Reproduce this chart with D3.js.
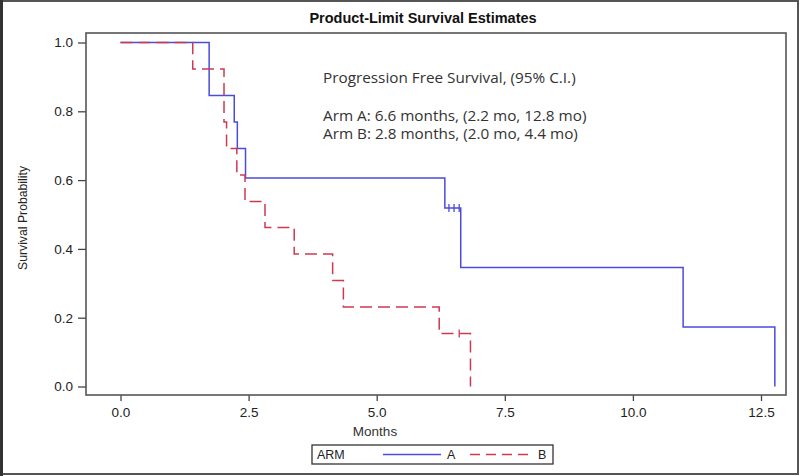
<!DOCTYPE html>
<html><head><meta charset="utf-8">
<script src="https://cdn.jsdelivr.net/npm/d3@7"></script>
<style>body{margin:0;background:#fff}svg{display:block}</style>
</head><body>
<svg id="c" width="800" height="476"></svg>
<script>
const title = "Product-Limit Survival Estimates";
const xTicks = [0, 2.5, 5.0, 7.5, 10.0, 12.5];
const yTicks = [0, 0.2, 0.4, 0.6, 0.8, 1.0];
const timesA = [0, 1.73, 2.22, 2.28, 2.44, 6.33, 6.64, 10.98, 12.77];
const survA  = [1.0, 0.846, 0.769, 0.692, 0.606, 0.519, 0.346, 0.173, 0.0];
const censorTimesA = [6.41, 6.51, 6.61];
const censorSurvA  = [0.519, 0.519, 0.519];
const timesB = [0, 1.41, 2.02, 2.07, 2.27, 2.43, 2.82, 3.39, 4.14, 4.35, 6.22, 6.83];
const survB  = [1.0, 0.923, 0.769, 0.692, 0.615, 0.538, 0.462, 0.385, 0.308, 0.231, 0.154, 0.0];
const censorTimesB = [6.61];
const censorSurvB  = [0.154];
const annotations = [
  "Progression Free Survival, (95% C.I.)",
  "Arm A: 6.6 months, (2.2 mo, 12.8 mo)",
  "Arm B: 2.8 months, (2.0 mo, 4.4 mo)"
];
const legendTitle = "ARM";
const legendLabels = ["A", "B"];

const svg = d3.select("#c");
const blue = "#4b4bdc", red = "#cc3a52";
const box = {l: 86, t: 33, r: 786, b: 395};

// outer frame
svg.append("rect").attr("x", 1).attr("y", 1).attr("width", 797).attr("height", 473)
  .attr("fill", "#fff").attr("stroke", "#555").attr("stroke-width", 2);
svg.append("line").attr("x1", 1.5).attr("x2", 1.5).attr("y1", 0).attr("y2", 476)
  .attr("stroke", "#333").attr("stroke-width", 3);

const x = d3.scaleLinear().domain([0, 12.5]).range([120.5, 761]);
const y = d3.scaleLinear().domain([0, 1]).range([386.5, 42.5]);

svg.append("text").attr("x", 423).attr("y", 23).attr("text-anchor", "middle")
  .attr("font-family", "Liberation Sans, Arial, sans-serif").attr("font-weight", "bold")
  .attr("font-size", 14.5).attr("fill", "#111").text(title);

// axes
const font = "Liberation Sans, Arial, sans-serif";
const yAxis = svg.append("g").attr("transform", `translate(${box.l},0)`)
  .call(d3.axisLeft(y).tickValues(yTicks).tickFormat(d3.format(".1f")).tickSize(8).tickPadding(5));
const xAxis = svg.append("g").attr("transform", `translate(0,${box.b})`)
  .call(d3.axisBottom(x).tickValues(xTicks).tickFormat(d3.format(".1f")).tickSize(6).tickPadding(6));
[yAxis, xAxis].forEach(g => {
  g.select(".domain").remove();
  g.selectAll("line").attr("stroke", "#444").attr("stroke-width", 1.3);
  g.selectAll("text").attr("font-family", font).attr("font-size", 13.5).attr("fill", "#222");
});

svg.append("rect").attr("x", box.l).attr("y", box.t).attr("width", box.r - box.l).attr("height", box.b - box.t)
  .attr("fill", "none").attr("stroke", "#555").attr("stroke-width", 1.6);

svg.append("text").attr("transform", `translate(27,${(box.t + box.b) / 2 + 4}) rotate(-90)`)
  .attr("text-anchor", "middle").attr("font-family", font).attr("font-size", 13.5)
  .attr("textLength", 104).attr("lengthAdjust", "spacingAndGlyphs")
  .attr("fill", "#222").text("Survival Probability");
svg.append("text").attr("x", 375).attr("y", 436).attr("text-anchor", "middle")
  .attr("font-family", font).attr("font-size", 13.5).attr("fill", "#333").text("Months");

// annotation
annotations.forEach((t, i) => {
  svg.append("text").attr("x", 323).attr("y", [83, 121, 139][i])
    .attr("font-family", "Open Sans, sans-serif").attr("font-size", 15.3).attr("fill", "#333").text(t);
});

const stepLine = d3.line().x(d => x(d[0])).y(d => y(d[1])).curve(d3.curveStepAfter);
const ptsA = timesA.map((t, i) => [t, survA[i]]);
const ptsB = timesB.map((t, i) => [t, survB[i]]);

svg.append("path").attr("d", stepLine(ptsA)).attr("fill", "none")
  .attr("stroke", blue).attr("stroke-width", 1.5);
svg.append("path").attr("d", stepLine(ptsB)).attr("fill", "none")
  .attr("stroke", red).attr("stroke-width", 1.5).attr("stroke-dasharray", "12,6");

function censors(ts, ss, col) {
  ts.forEach((t, i) => {
    svg.append("line").attr("x1", x(t)).attr("x2", x(t)).attr("y1", y(ss[i]) - 4).attr("y2", y(ss[i]) + 4)
      .attr("stroke", col).attr("stroke-width", 1.3);
  });
}
censors(censorTimesA, censorSurvA, blue);
censors(censorTimesB, censorSurvB, red);

// legend
const lg = svg.append("g");
lg.append("rect").attr("x", 312).attr("y", 445).attr("width", 241).attr("height", 19)
  .attr("fill", "#fff").attr("stroke", "#333").attr("stroke-width", 1.3);
lg.append("text").attr("x", 317).attr("y", 459).attr("font-family", font).attr("font-size", 12.5)
  .attr("fill", "#222").text(legendTitle);
lg.append("line").attr("x1", 383).attr("x2", 441).attr("y1", 454.5).attr("y2", 454.5)
  .attr("stroke", blue).attr("stroke-width", 1.5);
lg.append("text").attr("x", 447).attr("y", 459).attr("font-family", font).attr("font-size", 12.5)
  .attr("fill", "#222").text(legendLabels[0]);
lg.append("line").attr("x1", 470).attr("x2", 528).attr("y1", 454.5).attr("y2", 454.5)
  .attr("stroke", red).attr("stroke-width", 1.5).attr("stroke-dasharray", "10,6");
lg.append("text").attr("x", 538).attr("y", 459).attr("font-family", font).attr("font-size", 12.5)
  .attr("fill", "#222").text(legendLabels[1]);
</script>
</body></html>
